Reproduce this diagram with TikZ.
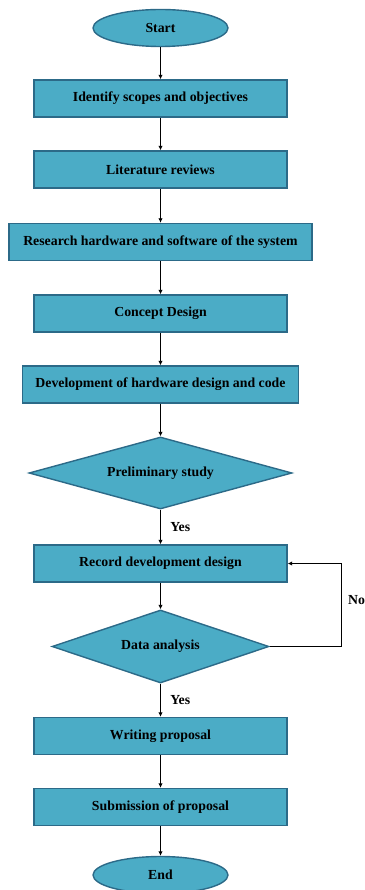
\documentclass[tikz,border=0pt]{standalone}
\usepackage{fontspec}
\setmainfont{Liberation Serif}
\usetikzlibrary{shapes.geometric,arrows.meta}
\definecolor{boxfill}{HTML}{4BACC6}
\definecolor{boxline}{HTML}{2C6A88}

\begin{document}
\begin{tikzpicture}[x=1pt,y=-1pt,
  every node/.style={font=\bfseries\fontsize{13.8}{16}\selectfont},
  term/.style={ellipse, fill=boxfill, draw=boxline, line width=1.4pt, minimum width=135pt, minimum height=37pt, inner sep=0pt},
  stepbox/.style={rectangle, fill=boxfill, draw=boxline, line width=1.4pt, minimum width=253pt, minimum height=37pt, inner sep=0pt},
  check/.style={diamond, aspect=3.2, fill=boxfill, draw=boxline, line width=1.4pt, inner sep=0pt},
  flow/.style={-{Latex[length=4.5pt,width=4.5pt]}, line width=0.9pt}]
\useasboundingbox (0,0) rectangle (364,890);
\node [term] (start) at (160.5,28) {Start};
\node [stepbox] (scope) at (160.5,98.5) {Identify scopes and objectives};
\node [stepbox] (review) at (160.5,169.5) {Literature reviews};
\node [stepbox, minimum width=303pt] (research) at (160.5,242) {Research hardware and software of the system};
\node [stepbox] (concept) at (160.5,313.5) {Concept Design};
\node [stepbox, minimum width=276pt] (develop) at (160.5,384.5) {Development of hardware design and code};
\node [check, minimum width=263pt, minimum height=72pt] (prelim) at (160.5,473) {Preliminary study};
\node [stepbox] (record) at (160.5,563.5) {Record development design};
\node [check, minimum width=217pt, minimum height=73pt] (analysis) at (160.5,646.5) {Data analysis};
\node [stepbox] (writing) at (160.5,736) {Writing proposal};
\node [stepbox] (submit) at (160.5,807) {Submission of proposal};
\node [term] (finish) at (160.5,875) {End};
\node [anchor=west, inner sep=0pt] (nolabel) at (348,600) {No};
% main line
\draw [flow] (start) -- (scope);
\draw [flow] (scope) -- (review);
\draw [flow] (review) -- (research);
\draw [flow] (research) -- (concept);
\draw [flow] (concept) -- (develop);
\draw [flow] (develop) -- (prelim);
\draw [flow] (prelim) -- node [right, xshift=6pt] (yesone) {Yes} (record);
\draw [flow] (record) -- (analysis);
\draw [flow] (analysis) -- node [right, xshift=6pt] (yestwo) {Yes} (writing);
\draw [flow] (writing) -- (submit);
\draw [flow] (submit) -- (finish);
% loop back
\draw [flow] (analysis.east) -- ++(72,0) |- (record.east);
\end{tikzpicture}
\end{document}
